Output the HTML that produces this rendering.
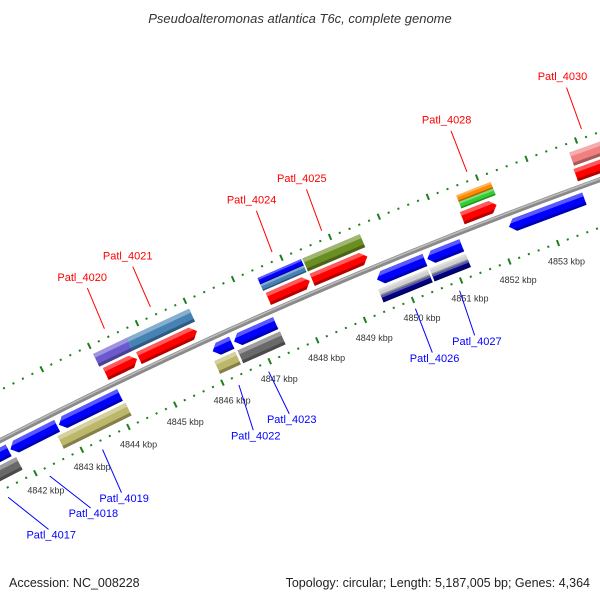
<!DOCTYPE html>
<html><head><meta charset="utf-8"><style>
html,body{margin:0;padding:0;background:#fff;}
svg{display:block;font-family:"Liberation Sans",sans-serif;}
</style></head><body>
<svg id="map" width="600" height="600" viewBox="0 0 600 600" xmlns="http://www.w3.org/2000/svg">
<rect width="600" height="600" fill="#fff"/>
<text x="300" y="23" text-anchor="middle" font-size="13" font-style="italic" fill="#333">Pseudoalteromonas atlantica T6c, complete genome</text>
<g id="layer"></g>
<text x="9" y="587" font-size="12.5" fill="#222">Accession: NC_008228</text>
<text x="590" y="587" text-anchor="end" font-size="12.5" fill="#222">Topology: circular; Length: 5,187,005 bp; Genes: 4,364</text>
</svg>
<script>
// ---- data ----
const geneStart = [4841.0,4841.78,4842.82,4846.08,4846.53,4849.51,4850.55,4852.23,
  4841.0,4842.70,4846.03,4846.52,4849.46,4849.46,4850.52,4850.52,
  4844.05,4844.75,4847.46,4848.37,4851.46,4853.77,
  4844.0,4844.70,4847.43,4847.43,4848.36,4851.51,4851.51,4853.8];
const geneEnd = [4841.74,4842.78,4844.12,4846.48,4847.40,4850.50,4851.26,4853.77,
  4841.81,4844.15,4846.47,4847.41,4850.48,4850.48,4851.27,4851.27,
  4844.71,4845.97,4848.32,4849.51,4852.16,4855.0,
  4844.70,4846.01,4848.33,4848.33,4849.54,4852.21,4852.21,4855.0];
const geneStrand = [-1,-1,-1,-1,-1,-1,-1,-1, -1,-1,-1,-1,-1,-1,-1,-1, 1,1,1,1,1,1, 1,1,1,1,1,1,1,1];
const geneRow = [1,1,1,1,1,1,1,1, 2,2,2,2,2,2,2,2, 1,1,1,1,1,1, 2,2,2,2,2,2,2,2];
const geneSub = ['f','f','f','f','f','f','f','f', 'f','f','f','f','i','o','i','o', 'f','f','f','f','f','f', 'f','f','o','i','f','o','i','f'];
const geneArrow = [1,1,1,1,1,1,1,1, 0,0,0,0,0,0,0,0, 1,1,1,1,1,1, 0,0,0,0,0,0,0,0];
const geneColor = ['#0000ff','#0000ff','#0000ff','#0000ff','#0000ff','#0000ff','#0000ff','#0000ff',
  '#696969','#bdb76b','#bdb76b','#696969','#d0d0d0','#000080','#d0d0d0','#000080',
  '#ff0000','#ff0000','#ff0000','#ff0000','#ff0000','#ff0000',
  '#6a5acd','#4682b4','#0000ff','#4682b4','#6b8e23','#ff8c00','#32cd32','#f08080'];

const labelNames = ['Patl_4017','Patl_4018','Patl_4019','Patl_4020','Patl_4021','Patl_4022','Patl_4023','Patl_4024','Patl_4025','Patl_4026','Patl_4027','Patl_4028','Patl_4030'];
const labelLineKb = [4841.32,4842.22,4843.36,4844.40,4845.36,4846.27,4846.90,4847.88,4848.90,4849.98,4850.90,4851.86,4854.17];
const labelTextKb = [4841.73,4842.65,4843.32,4844.44,4845.38,4846.16,4846.93,4847.92,4848.94,4849.96,4850.85,4851.86,4854.17];
const labelStrand = [-1,-1,-1,1,1,-1,-1,1,1,-1,-1,1,1];

const kbpTicks = [4842,4843,4844,4845,4846,4847,4848,4849,4850,4851,4852,4853];

// ---- geometry ----
const CX=2329, CY=4974.5, R=5097;
const NS='http://www.w3.org/2000/svg';
const layer=document.getElementById('layer');
function ang(kb){return (-117+(kb-4842)*0.589)*Math.PI/180;}
function pt(kb,v){const a=ang(kb),r=R+v;return [CX+r*Math.cos(a),CY+r*Math.sin(a)];}
function mk(tag,attrs){const e=document.createElementNS(NS,tag);for(const k in attrs)e.setAttribute(k,attrs[k]);return e;}
function mix(hex,t,to){const n=parseInt(hex.slice(1),16);let c=[n>>16&255,n>>8&255,n&255];c=c.map(x=>Math.round(x+(to-x)*t));return 'rgb('+c.join(',')+')';}
function arcPath(v,k1,k2){let d='';for(let k=k1;k<=k2+1e-9;k+=0.25){const p=pt(k,v);d+=(d?'L':'M')+p[0].toFixed(2)+','+p[1].toFixed(2);}return d;}

// backbone
let bb=mk('path',{d:arcPath(0,4838,4857),fill:'none',stroke:'#8a8a8a','stroke-width':5});


layer.appendChild(bb);
let bb2=mk('path',{d:arcPath(1,4838,4857),fill:'none',stroke:'#bdbdbd','stroke-width':1.5});


layer.appendChild(bb2);

// ticks on both rings
[45,-45].forEach(function(rv){
  for(let i=0;i<=85;i++){
    const k=4838+i*0.2;
    const major=Math.abs(k-Math.round(k))<1e-6;
    const hl=major?3.2:1;
    const a=pt(k,rv-hl),b=pt(k,rv+hl);
    const t=mk('line',{x1:a[0],y1:a[1],x2:b[0],y2:b[1],stroke:'#1c801c','stroke-width':2});
    
    
    layer.appendChild(t);
  }
});

// kbp labels
kbpTicks.forEach(function(k){
  const p=pt(k+0.03,-65);
  const t=mk('text',{x:p[0],y:p[1],'text-anchor':'middle',dy:'0.35em','font-size':'9',fill:'#333'});
  t.textContent=k+' kbp';
  
  
  layer.appendChild(t);
});

// genes
function poly(k1,k2,v1,v2,strand,arrow,g1,g2){
  const gm=(g1+g2)/2,gh=(g2-g1)/2,head=0.12;
  const len=k2-k1,hd=Math.min(head,len*0.5);
  const pts=[];
  if(!arrow){pts.push([k1,v1],[k2,v1],[k2,v2],[k1,v2]);}
  else if(strand>0){
    const e=v=>k2-hd*Math.abs(v-gm)/gh;
    pts.push([k1,v1],[e(v1),v1]);
    if(v1<gm&&gm<v2)pts.push([k2,gm]);
    pts.push([e(v2),v2],[k1,v2]);
  } else {
    const e=v=>k1+hd*Math.abs(v-gm)/gh;
    pts.push([k2,v1],[e(v1),v1]);
    if(v1<gm&&gm<v2)pts.push([k1,gm]);
    pts.push([e(v2),v2],[k2,v2]);
  }
  return pts.map(q=>pt(q[0],q[1]).map(x=>x.toFixed(2)).join(',')).join(' ');
}
for(let i=0;i<geneStart.length;i++){
  let g1=geneRow[i]===1?6:22,g2=geneRow[i]===1?19:36;
  if(geneSub[i]==='o')g1=29;
  if(geneSub[i]==='i')g2=29;
  if(geneStrand[i]<0){const a=-g2,b=-g1;g1=a;g2=b;}
  const h=g2-g1,col=geneColor[i],k1=geneStart[i],k2=geneEnd[i],s=geneStrand[i],ar=geneArrow[i];
  const grp=mk('g',{});
  
  
  const bands=[[g1,g2,col],[g2-0.3*h,g2,mix(col,0.35,255)],[g1,g1+0.22*h,mix(col,0.3,0)]];
  bands.forEach(function(bd){
    grp.appendChild(mk('polygon',{points:poly(k1,k2,bd[0],bd[1],s,ar,g1,g2),fill:bd[2]}));
  });
  layer.appendChild(grp);
}

// labels
for(let i=0;i<labelNames.length;i++){
  const s=labelStrand[i];
  const a=pt(labelLineKb[i],54*s),b=pt(labelTextKb[i],s>0?98:-101);
  const col=s>0?'#ff0000':'#0000ff';
  const ln=mk('line',{x1:a[0],y1:a[1],x2:b[0],y2:b[1],stroke:col,'stroke-width':1});
  
  
  layer.appendChild(ln);
  const p=pt(labelTextKb[i],s>0?110:-107);
  const t=mk('text',{x:p[0],y:p[1],'text-anchor':'middle',dy:'0.35em','font-size':'11',fill:col});
  t.textContent=labelNames[i];
  
  
  layer.appendChild(t);
}
</script>
</body></html>
